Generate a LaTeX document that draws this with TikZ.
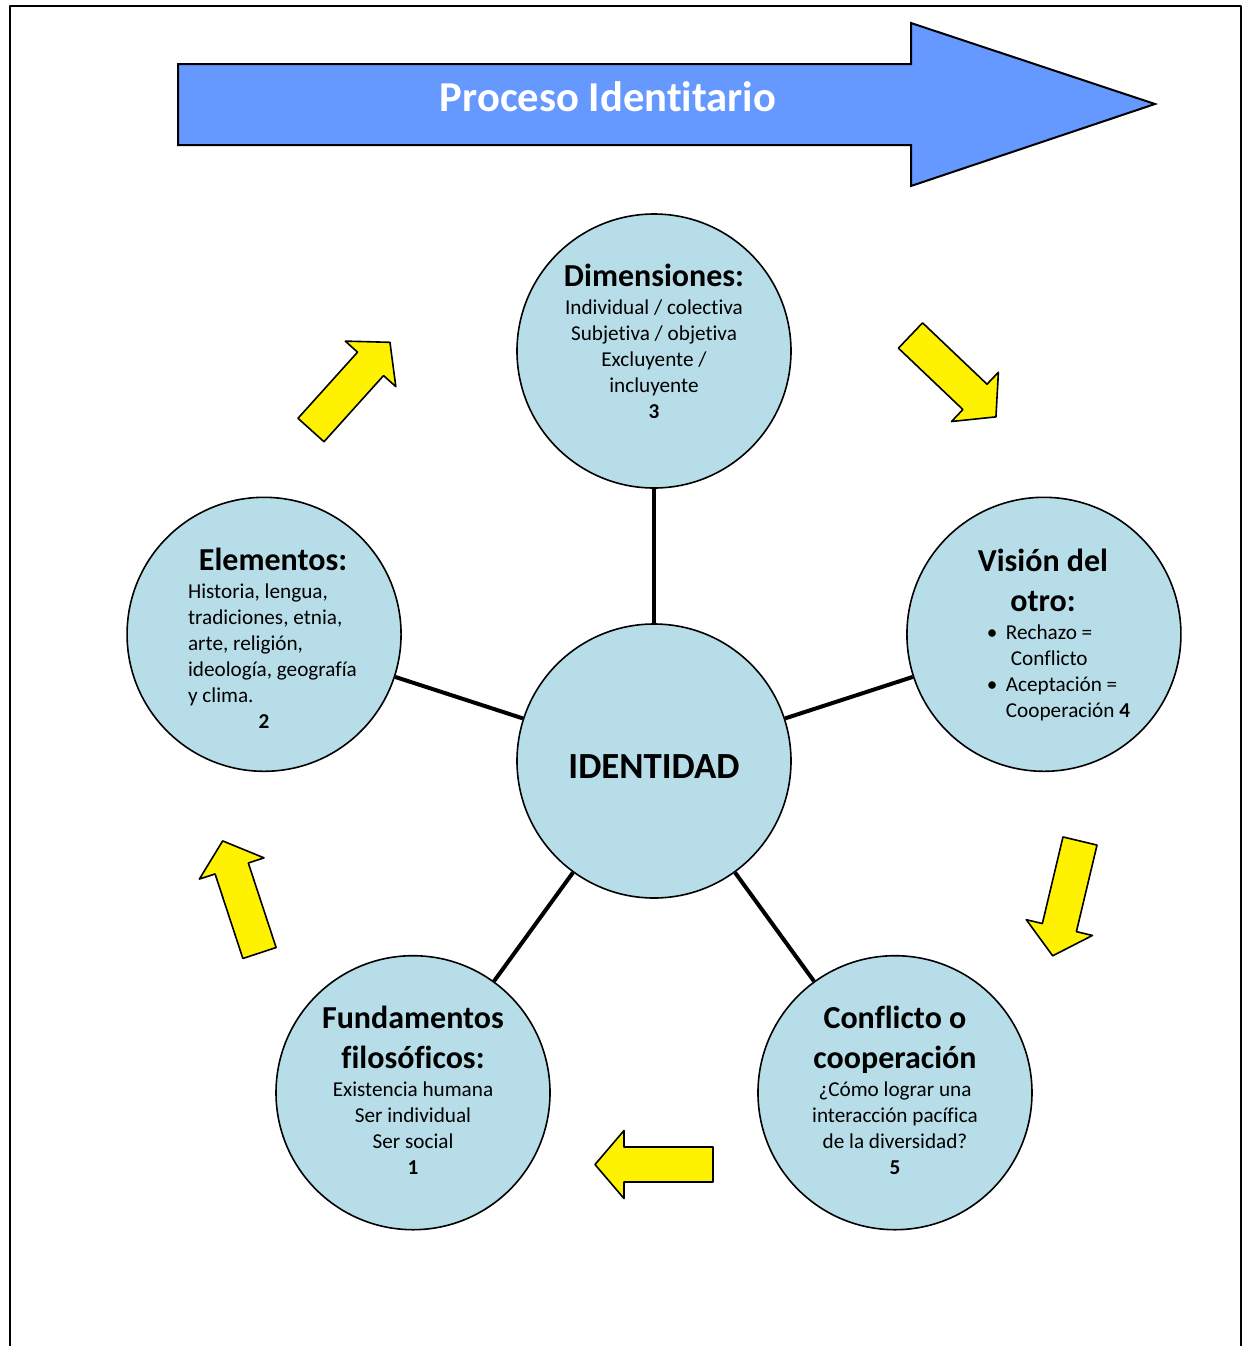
\documentclass[tikz,border=0pt]{standalone}
\usepackage{fontspec}
\setmainfont{Carlito}[Ligatures=NoCommon]
\usetikzlibrary{positioning}
\definecolor{aguaclaro}{HTML}{B7DEE8}
\definecolor{azulflecha}{HTML}{6699FF}
\newcommand\titulof{\fontsize{16}{20}\selectfont\bfseries}
\newcommand\cuerpof{\fontsize{10.6}{13}\selectfont}
\newcommand\linea[2]{\makebox[#1][l]{#2}}
\newcommand\flechita[2]{\draw[amarilla,shift={#1},rotate=#2] (0,-17.5) -- (89,-17.5) -- (89,-34) -- (118,0) -- (89,34) -- (89,17.5) -- (0,17.5) -- cycle;}

\begin{document}
\begin{tikzpicture}[line cap=round,line join=round,x=0.5pt,y=-0.5pt,
  circulo/.style={circle,draw=black,line width=0.8pt,fill=aguaclaro,minimum size=137pt,inner sep=0pt},
  texto/.style={align=center,inner sep=0pt,font=\cuerpof},
  radio/.style={line width=2pt,line cap=butt},
  amarilla/.style={draw=black,line width=0.8pt,fill=yellow}]
\useasboundingbox (0,0) rectangle (1245,1346);
% marco
\draw[line width=1pt] (10,1346) -- (10,6) -- (1241,6) -- (1241,1346);
% flecha grande
\draw[line width=1pt,line join=miter,fill=azulflecha] (178,64) -- (911,64) -- (911,23) -- (1155,104) -- (911,186) -- (911,145) -- (178,145) -- cycle;
\node (proceso) at (608,97) [text=white,font=\fontsize{21.3}{25}\selectfont\bfseries] {Proceso Identitario};
% circulos
\node[circulo] (identidad) at (654,761) {};
\path (identidad) ++(90:205pt) node[circulo] (dimensiones) {};
\path (identidad) ++(162:205pt) node[circulo] (elementos) {};
\path (identidad) ++(18:205pt) node[circulo] (vision) {};
\path (identidad) ++(234:205pt) node[circulo] (fundamentos) {};
\path (identidad) ++(306:205pt) node[circulo] (conflicto) {};
\foreach \c in {dimensiones,elementos,vision,fundamentos,conflicto}
  \draw[radio] (identidad) -- (\c);
% textos
\node[font=\fontsize{18.4}{22}\selectfont\bfseries,yshift=-3pt] (tidentidad) at (identidad) {IDENTIDAD};
\node[texto,yshift=4.75pt] (tdimensiones) at (dimensiones) {\titulof Dimensiones:\\[1pt]
  Individual / colectiva\\ Subjetiva / objetiva\\ Excluyente /\\ incluyente\\ \textbf{3}};
\node[texto,xshift=4.5pt,yshift=-2pt] (telementos) at (elementos) {\titulof Elementos:\\[1pt]
  \linea{85pt}{Historia, lengua,}\\ \linea{85pt}{tradiciones, etnia,}\\
  \linea{85pt}{arte, religión,}\\ \linea{85pt}{ideología, geografía}\\ \linea{85pt}{y clima.}\\
  \makebox[85pt]{\textbf{2}\hspace{9pt}}};
\node[texto,xshift=-0.5pt,yshift=-0.5pt] (tvision) at (vision) {\titulof Visión del\\[7pt] \titulof otro:\\[1pt]
  \linea{56pt}{\makebox[9.5pt][l]{\textbullet}Rechazo =}\\ \linea{56pt}{\hspace{12pt}Conflicto}\\
  \linea{56pt}{\makebox[9.5pt][l]{\textbullet}Aceptación =}\\ \linea{56pt}{\hspace{9.5pt}Cooperación \textbf{4}}};
\node[texto,yshift=1pt] (tfundamentos) at (fundamentos) {\titulof Fundamentos\\[7pt] \titulof filosóficos:\\[1pt]
  Existencia humana\\ Ser individual\\ Ser social\\ \textbf{1}};
\node[texto,yshift=1pt] (tconflicto) at (conflicto) {\titulof Conflicto o\\[7pt] \titulof cooperación\\[1pt]
  ¿Cómo lograr una\\ interacción pacífica\\ de la diversidad?\\ \textbf{5}};
% flechas amarillas
\flechita{(311,430)}{48}
\flechita{(910.5,335.5)}{-43.6}
\flechita{(1080,841)}{-103.4}
\flechita{(713,1164.5)}{180}
\flechita{(259.5,953)}{108.2}
\end{tikzpicture}
\end{document}
